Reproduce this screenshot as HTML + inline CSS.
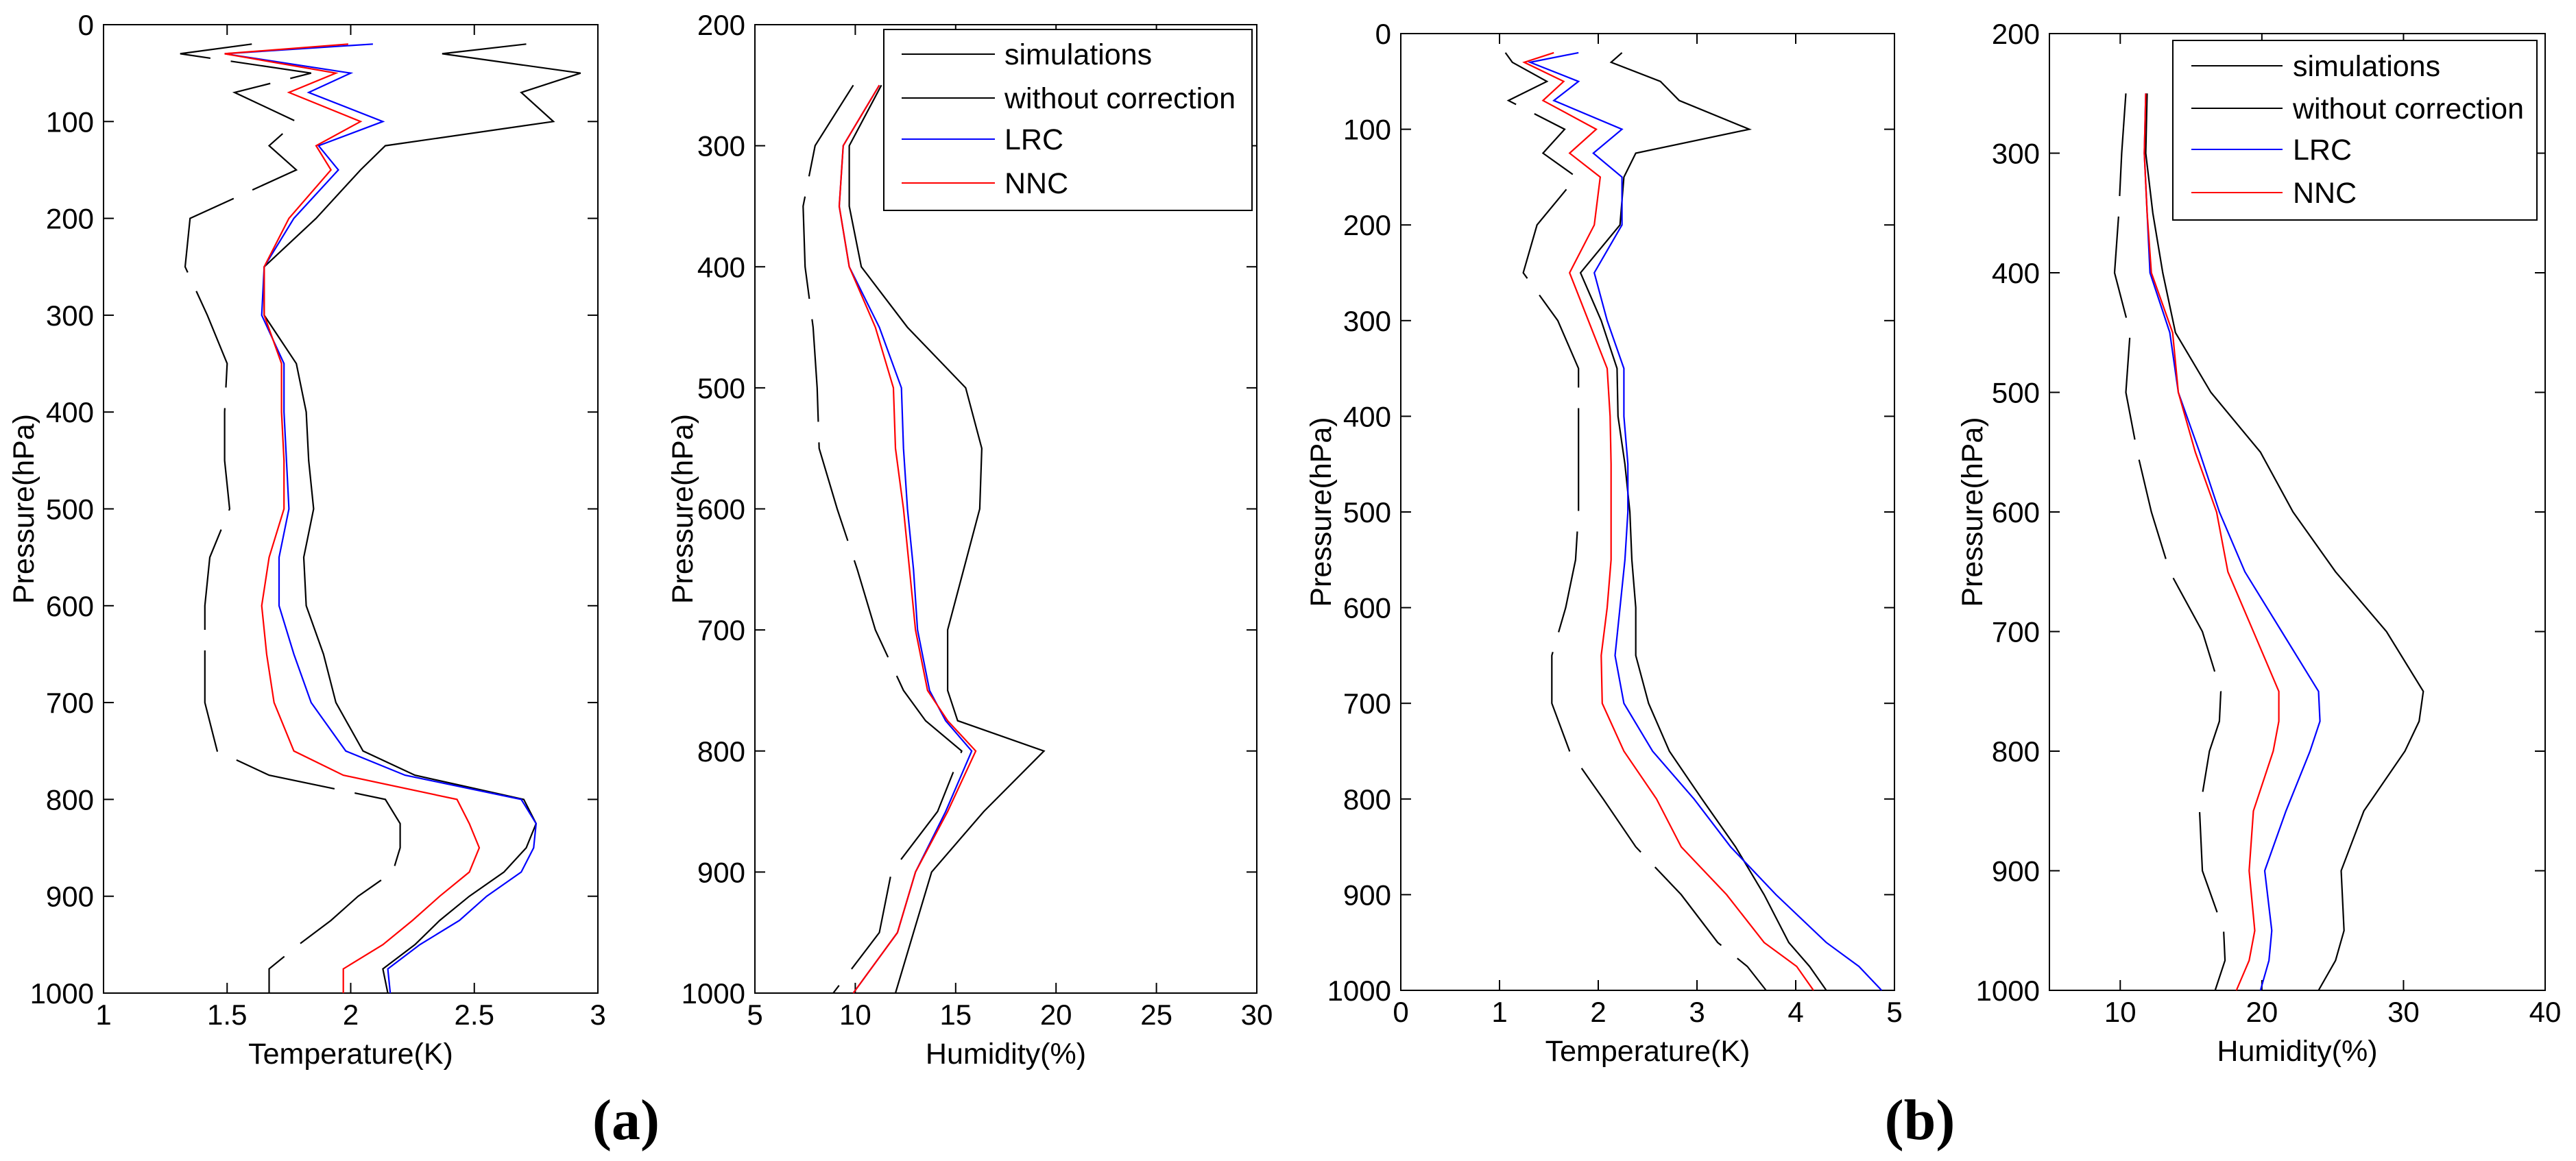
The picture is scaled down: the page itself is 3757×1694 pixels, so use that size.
<!DOCTYPE html>
<html><head><meta charset="utf-8">
<style>
html,body{margin:0;padding:0;background:#fff;}
svg{display:block;font-family:"Liberation Sans",Arial,sans-serif;}
</style></head>
<body>
<svg id="fig" width="3757" height="1694" viewBox="0 0 3757 1694" xmlns="http://www.w3.org/2000/svg">
<text x="913" y="1662" font-family="Liberation Serif, serif" font-weight="bold" font-size="84" text-anchor="middle">(a)</text>
<text x="2800" y="1662" font-family="Liberation Serif, serif" font-weight="bold" font-size="84" text-anchor="middle">(b)</text>
</svg>
<script>
// ---- data ----
const pT = [20,30,50,70,100,125,150,200,250,300,350,400,450,500,550,600,650,700,750,775,800,825,850,875,900,925,950,975,1000];
const aT_woc = [2.71,2.37,2.93,2.69,2.82,2.14,2.04,1.86,1.65,1.65,1.78,1.82,1.83,1.85,1.81,1.82,1.89,1.94,2.05,2.26,2.70,2.75,2.71,2.62,2.48,2.36,2.26,2.13,2.15];
const aT_lrc = [2.09,1.49,2.00,1.83,2.13,1.87,1.95,1.77,1.65,1.64,1.73,1.73,1.74,1.75,1.71,1.71,1.77,1.84,1.98,2.22,2.69,2.75,2.74,2.69,2.55,2.44,2.28,2.15,2.16];
const aT_nnc = [1.99,1.49,1.94,1.75,2.04,1.86,1.92,1.75,1.65,1.65,1.72,1.72,1.73,1.73,1.67,1.64,1.66,1.69,1.77,1.97,2.43,2.48,2.52,2.48,2.36,2.25,2.13,1.97,1.97];
const aT_sim = [1.60,1.31,1.84,1.53,1.78,1.67,1.78,1.35,1.33,1.42,1.50,1.49,1.49,1.51,1.43,1.41,1.41,1.41,1.46,1.67,2.14,2.20,2.20,2.17,2.03,1.92,1.79,1.67,1.67];

const pH = [250,300,350,400,450,500,550,600,650,700,750,775,800,850,900,950,1000];
const aH_woc = [11.3,9.7,9.7,10.3,12.6,15.5,16.3,16.2,15.4,14.6,14.6,15.1,19.4,16.4,13.8,12.9,12.0];
const aH_lrc = [11.2,9.4,9.2,9.7,11.2,12.3,12.4,12.6,12.9,13.1,13.7,14.5,15.8,14.5,13.0,12.1,9.9];
const aH_nnc = [11.2,9.4,9.2,9.7,11.0,11.9,12.0,12.4,12.7,13.0,13.6,14.6,16.0,14.6,13.0,12.1,9.9];
const aH_sim = [9.9,8.0,7.4,7.5,7.9,8.1,8.2,9.1,10.1,11.0,12.4,13.5,15.3,14.1,11.8,11.2,8.9];

const pTb = [20,30,50,70,100,125,150,200,250,300,350,400,450,500,550,600,650,700,750,800,850,900,950,975,1000];
const bT_woc = [2.24,2.13,2.63,2.82,3.53,2.38,2.26,2.22,1.82,2.03,2.19,2.20,2.27,2.32,2.34,2.38,2.38,2.51,2.72,3.05,3.39,3.68,3.93,4.14,4.31];
const bT_lrc = [1.80,1.31,1.80,1.55,2.24,1.95,2.24,2.24,1.96,2.09,2.26,2.26,2.30,2.30,2.27,2.22,2.17,2.26,2.55,2.97,3.34,3.80,4.31,4.64,4.87];
const bT_nnc = [1.55,1.25,1.65,1.44,1.98,1.71,2.02,1.96,1.71,1.90,2.09,2.12,2.13,2.13,2.13,2.09,2.03,2.04,2.26,2.59,2.84,3.30,3.68,4.01,4.18];
const bT_sim = [1.06,1.13,1.48,1.09,1.66,1.44,1.78,1.38,1.24,1.59,1.80,1.80,1.80,1.80,1.77,1.67,1.53,1.53,1.71,2.05,2.38,2.84,3.21,3.51,3.70];

const pHb = [250,300,350,400,450,500,550,600,650,700,750,775,800,850,900,950,975,1000];
const bH_woc = [11.9,11.8,12.3,13.0,13.9,16.4,19.9,22.2,25.2,28.8,31.4,31.1,30.1,27.2,25.6,25.8,25.2,24.0];
const bH_lrc = [11.8,11.7,11.9,12.1,13.5,14.1,15.6,17.0,18.8,21.4,24.0,24.1,23.4,21.7,20.2,20.7,20.5,19.9];
const bH_nnc = [11.8,11.7,11.9,12.2,13.7,14.1,15.3,16.8,17.6,19.4,21.2,21.2,20.8,19.4,19.1,19.5,19.1,18.2];
const bH_sim = [10.4,10.1,9.9,9.6,10.7,10.4,11.2,12.2,13.5,15.8,17.1,17.0,16.3,15.6,15.8,17.3,17.4,16.7];

const xt1 = [1,1.5,2,2.5,3], xt2=[5,10,15,20,25,30], xt3=[0,1,2,3,4,5], xt4=[10,20,30,40];
const yt1 = [0,100,200,300,400,500,600,700,800,900,1000];
const yt2 = [200,300,400,500,600,700,800,900,1000];
const legendLabels = ["simulations","without correction","LRC","NNC"];

// ---- drawing ----
const NS="http://www.w3.org/2000/svg";
const svg=document.getElementById('fig');
function el(tag,attrs,parent){const e=document.createElementNS(NS,tag);for(const k in attrs)e.setAttribute(k,attrs[k]);(parent||svg).appendChild(e);return e;}

function panel(cfg){
  const g=el('g',{});
  
  
  const X=v=>cfg.L+(v-cfg.x0)/(cfg.x1-cfg.x0)*(cfg.R-cfg.L);
  const Y=v=>cfg.T+(v-cfg.y0)/(cfg.y1-cfg.y0)*(cfg.B-cfg.T);
  const frame=el('rect',{x:cfg.L,y:cfg.T,width:cfg.R-cfg.L,height:cfg.B-cfg.T,fill:'none',stroke:'#000','stroke-width':2},g);
  
  
  cfg.xt.forEach(v=>{
    const x=X(v);
    const t1=el('line',{x1:x,x2:x,y1:cfg.B,y2:cfg.B-15,stroke:'#000','stroke-width':2},g);
    
    
    const t2=el('line',{x1:x,x2:x,y1:cfg.T,y2:cfg.T+15,stroke:'#000','stroke-width':2},g);
    
    
    const tx=el('text',{x:x,y:cfg.B+46,'font-size':42,'text-anchor':'middle'},g);
    tx.textContent=String(v);
    
    
  });
  cfg.yt.forEach(v=>{
    const y=Y(v);
    const t1=el('line',{x1:cfg.L,x2:cfg.L+15,y1:y,y2:y,stroke:'#000','stroke-width':2},g);
    
    
    const t2=el('line',{x1:cfg.R,x2:cfg.R-15,y1:y,y2:y,stroke:'#000','stroke-width':2},g);
    
    
    const tx=el('text',{x:cfg.L-14,y:y+15,'font-size':42,'text-anchor':'end'},g);
    tx.textContent=String(v);
    
    
  });
  const xl=el('text',{x:(cfg.L+cfg.R)/2,y:cfg.B+103,'font-size':43,'text-anchor':'middle'},g);
  xl.textContent=cfg.xlabel;
  
  
  const ym=(cfg.T+cfg.B)/2;
  const yl=el('text',{x:cfg.ylx,y:ym,'font-size':43,'text-anchor':'middle',transform:`rotate(-90 ${cfg.ylx} ${ym}) translate(0 15)`},g);
  yl.textContent='Pressure(hPa)';
  
  
  const series=[
    {v:cfg.sim,c:'#000',dash:'150 30',n:'series-simulations',p:cfg.p},
    {v:cfg.woc,c:'#000',dash:'',n:'series-without-correction',p:cfg.p},
    {v:cfg.lrc,c:'#0000ff',dash:'',n:'series-lrc',p:cfg.p},
    {v:cfg.nnc,c:'#ff0000',dash:'',n:'series-nnc',p:cfg.p}];
  series.forEach(s=>{
    const pts=s.v.map((v,i)=>X(v).toFixed(1)+','+Y(s.p[i]).toFixed(1)).join(' ');
    const pl=el('polyline',{points:pts,fill:'none',stroke:s.c,'stroke-width':2.2,'stroke-dasharray':s.dash||'none'},g);
    
    
  });
  if(cfg.leg){
    const lg=el('g',{},g);
    
    
    const lb=el('rect',{x:cfg.leg.x,y:cfg.leg.y,width:cfg.leg.w,height:cfg.leg.h,fill:'#fff',stroke:'#000','stroke-width':2},lg);
    
    
    const cols=['#000','#000','#0000ff','#ff0000'];
    legendLabels.forEach((t,i)=>{
      const y=cfg.leg.rows[i];
      const ln=el('line',{x1:cfg.leg.lx1,x2:cfg.leg.lx2,y1:y,y2:y,stroke:cols[i],'stroke-width':2},lg);
      
      
      const tx=el('text',{x:cfg.leg.tx,y:y+15,'font-size':43},lg);
      tx.textContent=t;
      
      
    });
  }
}

panel({name:'panel-a-temperature',L:151,R:872,T:36,B:1449,x0:1,x1:3,y0:0,y1:1000,xt:xt1,yt:yt1,xlabel:'Temperature(K)',ylx:34,p:pT,sim:aT_sim,woc:aT_woc,lrc:aT_lrc,nnc:aT_nnc});
panel({name:'panel-a-humidity',L:1101,R:1833,T:36,B:1449,x0:5,x1:30,y0:200,y1:1000,xt:xt2,yt:yt2,xlabel:'Humidity(%)',ylx:995,p:pH,sim:aH_sim,woc:aH_woc,lrc:aH_lrc,nnc:aH_nnc,
  leg:{x:1289,y:43,w:537,h:264,lx1:1315,lx2:1451,tx:1465,rows:[79,143,203,267]}});
panel({name:'panel-b-temperature',L:2043,R:2763,T:49,B:1445,x0:0,x1:5,y0:0,y1:1000,xt:xt3,yt:yt1,xlabel:'Temperature(K)',ylx:1926,p:pTb,sim:bT_sim,woc:bT_woc,lrc:bT_lrc,nnc:bT_nnc});
panel({name:'panel-b-humidity',L:2989,R:3712,T:49,B:1445,x0:5,x1:40,y0:200,y1:1000,xt:xt4,yt:yt2,xlabel:'Humidity(%)',ylx:2876,p:pHb,sim:bH_sim,woc:bH_woc,lrc:bH_lrc,nnc:bH_nnc,
  leg:{x:3169,y:59,w:531,h:262,lx1:3196,lx2:3329,tx:3344,rows:[96,158,218,281]}});
</script>
</body></html>
